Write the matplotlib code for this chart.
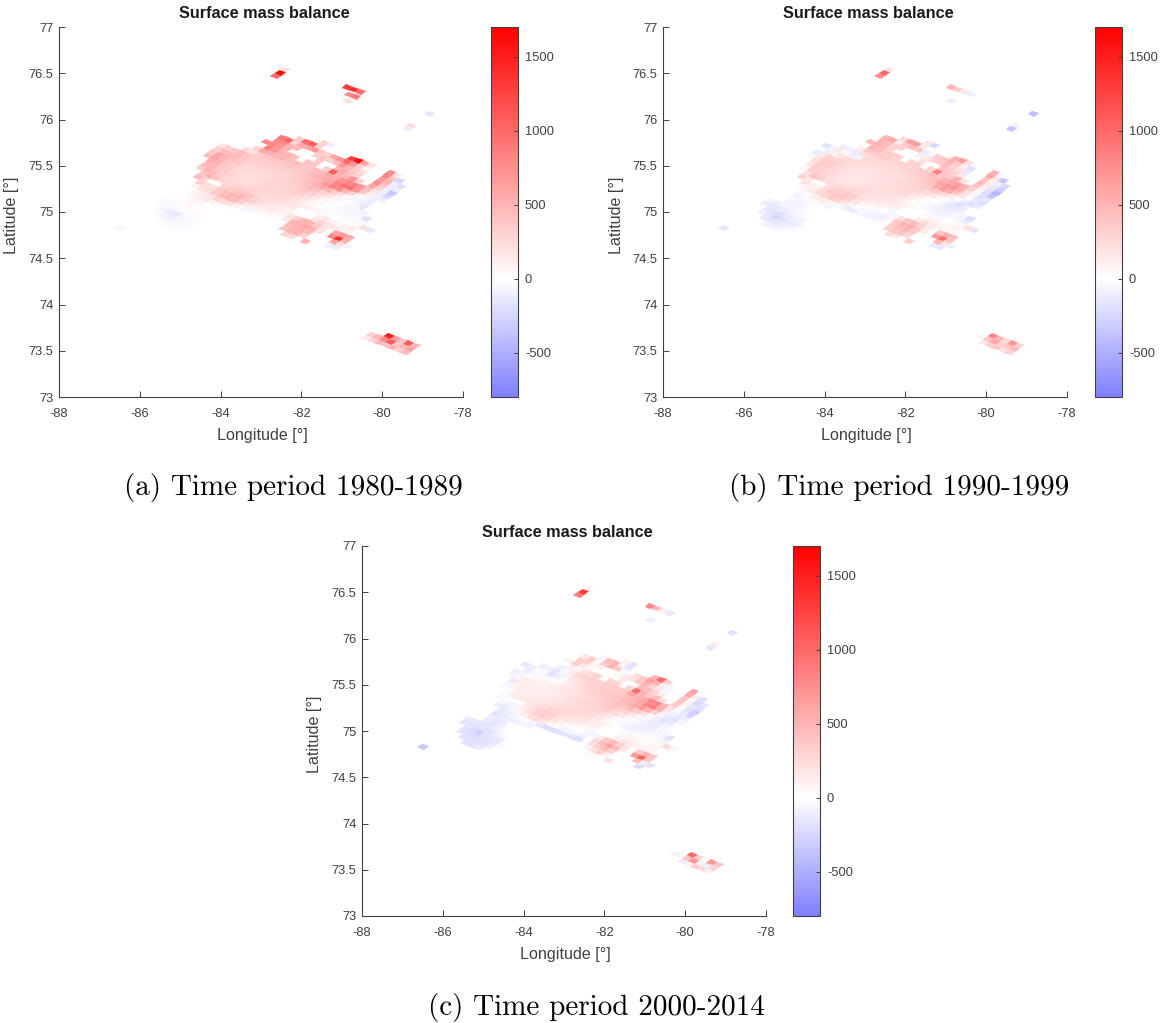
import numpy as np
import matplotlib
matplotlib.use("Agg")
import matplotlib.pyplot as plt
from matplotlib.colors import LinearSegmentedColormap, Normalize

_ = np.nan
TITLE = "Surface mass balance"
CAPTIONS = ["(a) Time period 1980-1989", "(b) Time period 1990-1999", "(c) Time period 2000-2014"]
XTICKS = [-88, -86, -84, -82, -80, -78]
YTICKS = [73, 73.5, 74, 74.5, 75, 75.5, 76, 76.5, 77]
YTICKLABELS = ["73", "73.5", "74", "74.5", "75", "75.5", "76", "76.5", "77"]
CTICKS = [-500, 0, 500, 1000, 1500]

# rows of the main ice cap, top row first: (first column, values)
cap_a = [
 (8,[300,-100]),
 (5,[350,1000,1050,300,_,_,_,_,1300,1600,600,200,_,_,800,150]),
 (3,[900,1000,300,600,600,700,400,300,600,750,1000,700,300,50,_,_,800,400,-250]),
 (3,[800,800,500,450,_,_,300,400,300,450,700,500,350,250,_,_,700,500,-100,-200]),
 (2,[800,800,700,500,_,_,_,_,350,_,_,500,550,400,300,_,_,750,400,-100,-100]),
 (3,[850,700,550,500,450,_,400,400,_,350,1100,500,500,700,300,_,600,300,-100,-350]),
 (2,[300,600,550,500,500,450,450,400,400,450,450,600,550,700,800,850,700,450,150,-100,-250]),
 (1,[250,200,350,400,400,400,400,400,400,400,450,500,550,600,800,950,950,700,350,100,-100,-100]),
 (-2,[150,300,400,450,400,350,350,350,350,350,350,350,350,400,450,500,700,850,800,500,300,50,-50,-100]),
 (-2,[300,450,450,450,400,350,300,300,300,300,300,300,350,400,450,500,550,500,350,200,50,-50,-80,-100]),
 (-2,[400,600,500,450,400,300,280,280,280,280,280,300,320,350,400,450,400,300,200,100,50,0,-50,-150]),
 (-2,[450,600,500,400,350,300,250,250,250,260,280,300,300,320,350,380,300,200,100,50,20,-30,-50,-60,-80]),
 (-1,[550,500,400,350,280,250,230,230,250,280,280,280,300,330,300,200,120,50,20,-20,-40,-50,-50,-40,-200]),
 (-1,[500,500,400,350,300,250,230,230,250,280,280,280,300,280,220,150,80,40,-10,-30,-40,-40,-30,-20,-30]),
 (-1,[350,500,450,350,280,250,240,250,280,300,300,280,280,250,200,150,120,100,80,30,10,0,0,20,50,200,-150]),
 (0,[400,500,400,300,280,300,320,320,300,280,250,230,200,180,150,_,_,_,100,150,100,50,100,150]),
 (0,[450,300,_,_,300,350,400,420,400,300,250,200,150,120,80,_,_,_,200,300,200,150,100,100]),
 (1,[350,250,200,350,450,500,500,400,300,200,150,150,120,100,200,350,500,500,350,200,50,600,700,600]),
 (1,[100,200,250,350,450,500,450,300,150,100,80,80,60,50,150,500,550,600,500,200,_,800,1400,500]),
 (2,[100,150,200,300,250,200,100,-50,-50,30,20,30,20,_,450,500,550,450,_,_,_,600,200,-70]),
 (2,[60,100,150,100,50,30,_,_,_,_,_,_,_,_,400,500,500,300,_,_,_,-80,-100]),
 (2,[40,80,40,_,_,_,_,_,_,_,_,_,_,_,_,300,250,_,500]),
 (2,[30,50,40,20]),
 (0,[-20,-30,30,60,40,20]),
 (0,[-50,-40,-30,-10,30,30,10]),
 (1,[-60,-100,-150,-60,-20,-10]),
 (1,[-40,-80,-100,-60,-30,-20]),
 (2,[-30,-40,-40,-30,-20]),
 (3,[-20,-20,-15]),
]
cap_b = [
 (8,[150,-250]),
 (5,[250,650,650,120,_,_,_,_,500,650,200,_,_,_,500,-50]),
 (3,[500,600,120,350,450,400,-120,-50,350,400,500,350,100,-200,_,_,600,150,-350]),
 (3,[500,450,300,300,_,_,100,150,300,350,450,300,200,-150,_,_,400,100,-100,-250]),
 (2,[450,500,450,300,_,_,_,_,200,_,_,400,400,300,150,_,_,450,150,-150,-300]),
 (3,[500,450,350,350,300,_,300,300,_,300,850,400,350,500,200,_,400,100,-200,-450]),
 (2,[100,350,350,350,350,300,300,300,300,350,350,450,400,500,600,650,500,300,50,-200,-350]),
 (0,[-100,-80,-120,200,250,280,280,280,280,280,300,320,350,400,450,600,700,700,500,200,-50,-200,-150]),
 (-2,[-200,-80,150,50,-100,-60,250,250,250,250,250,250,250,280,300,350,400,550,650,550,350,200,0,-150,-200]),
 (-1,[-100,100,200,250,250,250,230,220,220,220,220,230,250,280,320,350,400,350,250,120,0,-100,-200,-150]),
 (-2,[-120,150,300,300,280,250,220,200,200,200,200,220,240,260,280,300,300,250,150,50,-30,-120,-200,-100]),
 (-2,[-50,200,350,350,280,230,200,180,180,190,200,220,230,240,260,280,220,130,50,0,-60,-120,-150,-100]),
 (-1,[200,350,350,280,220,190,170,170,180,200,210,220,240,260,220,130,60,0,-40,-80,-100,-100,-60,-60,-220]),
 (-1,[150,350,300,280,230,190,170,170,190,220,220,220,230,220,160,100,30,-10,-50,-80,-80,-70,-40,-50,-100]),
 (-1,[50,300,350,280,230,190,180,200,230,250,240,220,220,190,150,100,80,50,0,-30,-40,-30,10,30,50,200,-150]),
 (0,[200,400,350,250,220,250,270,280,250,220,200,170,150,120,100,_,_,_,50,100,80,30,60,100]),
 (0,[300,150,_,_,250,300,350,380,330,220,170,120,100,50,-50,_,_,_,150,250,150,100,60,60]),
 (1,[200,120,100,250,350,400,400,300,200,80,30,50,20,-50,-60,200,400,450,300,150,20,400,550,450]),
 (1,[-30,80,150,250,300,380,300,200,80,0,-50,-60,-70,-100,50,400,500,550,400,150,_,650,950,400]),
 (2,[-50,30,100,150,120,60,-40,-120,-100,-40,-80,-70,-50,_,350,450,480,350,_,_,_,500,150,-100]),
 (2,[-80,-30,50,30,-30,-60,_,_,_,_,_,_,_,_,300,400,400,250,_,_,_,-120,-150]),
 (2,[-40,-60,-40,_,_,_,_,_,_,_,_,_,_,_,_,250,150,_,350]),
 (2,[-60,-80,-60,-30]),
 (0,[-60,-100,-80,-70,-60,-30]),
 (0,[-120,-140,-120,-100,-70,-50,-30]),
 (1,[-130,-170,-220,-150,-100,-80]),
 (1,[-90,-150,-260,-200,-130,-110,-50]),
 (2,[-130,-150,-130,-110,-70]),
 (3,[-80,-90,-60]),
]
cap_c = [
 (8,[100,-180]),
 (5,[100,450,480,80,-150,_,_,_,500,1000,300,_,_,_,600,-20]),
 (3,[150,350,-30,350,500,350,-40,_,250,400,650,500,100,-50,_,_,550,100,-200]),
 (3,[350,300,80,100,_,_,60,150,200,400,500,300,150,-60,_,_,400,50,-250,-150]),
 (2,[100,350,150,80,_,_,_,_,150,_,_,450,450,300,150,_,_,400,100,-150,-180]),
 (3,[100,80,200,250,300,_,300,300,_,300,1000,500,350,450,200,_,350,30,-200,-300]),
 (2,[-100,-50,150,280,300,330,330,350,350,350,400,600,500,550,800,800,500,200,-40,-130,-280]),
 (0,[-100,-80,-160,-60,100,200,250,300,330,350,380,400,400,450,500,600,800,850,550,150,-100,-150,-100]),
 (-2,[-160,-100,-30,-40,-170,-100,30,150,200,260,300,330,360,380,400,450,500,600,650,500,300,-50,-150,-180,-60]),
 (-1,[-120,-50,-40,-40,-20,30,120,180,230,260,300,330,360,400,430,420,450,350,220,50,-100,-180,-130]),
 (-2,[-100,-50,30,60,80,80,100,150,180,200,230,260,280,320,360,380,350,300,170,50,-50,-100,-120,-60]),
 (-2,[-40,80,120,120,110,110,120,150,170,200,230,260,280,300,320,320,260,170,60,-20,-70,-100,-120,-60,-30]),
 (-1,[-130,100,130,130,110,110,130,160,190,230,260,280,290,280,220,130,40,-20,-70,-90,-100,-90,-70,-60,-180]),
 (-1,[-60,80,130,130,120,120,140,170,210,240,260,270,260,220,160,90,10,-40,-70,-80,-70,-50,-30,-30,-80]),
 (-1,[-30,30,120,120,130,130,160,190,230,260,270,260,230,200,150,110,60,20,0,-30,-30,-20,20,40,60,250,-50]),
 (0,[-30,120,130,150,170,220,260,290,290,260,230,190,160,130,90,_,_,_,50,100,80,40,60,80]),
 (0,[-20,-20,_,_,150,220,300,330,300,220,160,120,100,50,-30,_,_,_,120,200,130,100,60,60]),
 (1,[-30,-80,-30,120,200,280,320,280,180,80,30,40,20,-50,-70,120,350,450,300,150,20,350,500,400]),
 (1,[-100,-130,-60,50,120,220,250,150,50,-30,-60,-50,-60,-100,20,250,450,600,450,150,_,700,1050,400]),
 (2,[-150,-100,-60,-30,-20,-60,-150,-220,-220,-180,-170,-190,-200,_,200,350,450,300,_,_,_,450,100,-200]),
 (2,[-170,-130,-90,-100,-60,-60,_,_,_,_,_,_,_,_,-40,200,300,100,_,_,_,_,-250]),
 (2,[-100,-130,-100,_,_,_,_,_,_,_,_,_,_,_,_,-40,50,_,200]),
 (2,[-120,-170,-110,-30]),
 (0,[-130,-160,-170,-160,-120,-50]),
 (0,[-170,-180,-190,-190,-170,-100,-40]),
 (1,[-180,-230,-300,-180,-150,-130]),
 (1,[-170,-200,-230,-190,-170,-150,-60]),
 (2,[-180,-190,-190,-170,-100]),
 (3,[-170,-170,-120]),
]

# outlying ice bodies: (lon, lat of first cell, rows from lowest row up)
isl_a = [
 (-82.63, 76.47, [[1000], [1650], [200]]),
 (-80.87, 76.35, [[1300, 1400, 1000]]),
 (-80.82, 76.27, [[800, 900, 50]]),
 (-80.85, 76.20, [[200]]),
 (-79.29, 75.93, [[250]]),
 (-79.38, 75.90, [[-100]]),
 (-78.84, 76.06, [[-150]]),
 (-86.49, 74.83, [[-50]]),
 (-80.38, 73.64, [[150, 300, 500, 400, 500, 300, 450],
                  [300, 500, 800, 1100, 400, 500, 600],
                  [_, _, 1500, 700, 400, 1100, 500]]),
]
isl_b = [
 (-82.63, 76.47, [[700], [1000], [150]]),
 (-80.87, 76.35, [[500, 350, 150, -100]]),
 (-80.85, 76.20, [[-100]]),
 (-79.29, 75.93, [[-80]]),
 (-79.38, 75.90, [[-350]]),
 (-78.84, 76.06, [[-400]]),
 (-86.49, 74.83, [[-150]]),
 (-80.38, 73.64, [[_, _, 150, 300, 400, 200, 300],
                  [_, 80, 400, 600, 300, 400, 450],
                  [_, _, 800, 500, 250, 700, 300]]),
]
isl_c = [
 (-82.63, 76.47, [[900], [1300], [100]]),
 (-80.87, 76.35, [[800, 450, 100, -150]]),
 (-80.85, 76.20, [[-100]]),
 (-79.29, 75.93, [[120]]),
 (-79.38, 75.90, [[-150]]),
 (-78.84, 76.06, [[-200]]),
 (-86.49, 74.83, [[-350]]),
 (-80.38, 73.64, [[_, _, -100, 100, 350, 250, 100],
                  [-80, -50, 400, 700, 100, -100, 300],
                  [_, _, 1000, 300, 50, 700, 400]]),
]

# grid geometry of the rotated model grid, degrees
LON0, LAT0 = -84.55, 75.38
DU = (0.1609, -0.0259)
DV = (0.1139, 0.0357)
VMIN, VMAX = -800, 1700

cmap = LinearSegmentedColormap.from_list(
    "smb", [(0, (0.5, 0.5, 1)), (800 / 2500, (1, 1, 1)), (1, (1, 0, 0))], N=256)
norm = Normalize(VMIN, VMAX)


def mesh(ax, lon0, lat0, rows):
    """rows[0] is row j=0; j grows towards the north-east."""
    n = max(len(r) for r in rows)
    z = np.full((len(rows), n), np.nan)
    for k, r in enumerate(rows):
        z[k, :len(r)] = r
    ii, jj = np.meshgrid(np.arange(n + 1) - 0.5, np.arange(len(rows) + 1) - 0.5)
    x = lon0 + DU[0] * ii + DV[0] * jj
    y = lat0 + DU[1] * ii + DV[1] * jj
    return ax.pcolormesh(x, y, np.ma.masked_invalid(z), cmap=cmap, norm=norm,
                         antialiased=True, edgecolors="face", linewidth=0.15)


def cap_rows(cap):
    lo = min(s for s, _v in cap)
    rows = []
    for s, v in cap[::-1]:
        rows.append([np.nan] * (s - lo) + list(v))
    return lo, rows


W, H = 1160, 1023
fig = plt.figure(figsize=(W / 100, H / 100), dpi=100)
plt.rcParams["font.family"] = ["Liberation Sans", "DejaVu Sans"]
GRAY = "#404040"


def panel(x0, y0, cap, islands, cbx, caption, capx, capy):
    ax = fig.add_axes([x0 / W, 1 - (y0 + 370) / H, 404 / W, 370 / H])
    lo, rows = cap_rows(cap)
    J_BOTTOM = 16 - (len(rows) - 1)
    lon = LON0 + DU[0] * lo + DV[0] * J_BOTTOM
    lat = LAT0 + DU[1] * lo + DV[1] * J_BOTTOM
    m = mesh(ax, lon, lat, rows)
    for ilon, ilat, irows in islands:
        mesh(ax, ilon, ilat, irows)
    ax.set_xlim(-88, -78)
    ax.set_ylim(73, 77)
    for s in ("top", "right"):
        ax.spines[s].set_visible(False)
    for s in ("left", "bottom"):
        ax.spines[s].set_color(GRAY)
        ax.spines[s].set_linewidth(0.8)
    ax.set_xticks(XTICKS)
    ax.set_xticklabels([str(t) for t in XTICKS])
    ax.set_yticks(YTICKS)
    ax.set_yticklabels(YTICKLABELS)
    ax.tick_params(direction="in", length=4, width=0.7, colors=GRAY, labelsize=9.3, pad=4)
    ax.tick_params(axis="x", pad=8)
    fig.text((x0 + 203) / W, 1 - (y0 + 408) / H, "Longitude [°]", ha="center", va="center",
             fontsize=11.6, color=GRAY)
    fig.text((x0 - 47) / W, 1 - (y0 + 188) / H, "Latitude [°]", ha="center", va="center",
             rotation=90, fontsize=11.6, color=GRAY)
    fig.text((x0 + 205) / W, 1 - (y0 - 13.5) / H, TITLE, ha="center", va="center",
             fontsize=11.7, fontweight="bold", color="#1a1a1a")
    cax = fig.add_axes([cbx / W, 1 - (y0 + 370) / H, 27 / W, 370 / H])
    cb = fig.colorbar(m, cax=cax)
    cb.set_ticks(CTICKS)
    cb.set_ticklabels([str(t) for t in CTICKS])
    cb.ax.tick_params(direction="in", length=3, width=0.7, colors=GRAY, labelsize=9.3, pad=5)
    cb.outline.set_edgecolor(GRAY)
    cb.outline.set_linewidth(0.8)
    fig.text(capx / W, 1 - capy / H, caption, ha="center", va="center",
             fontsize=21, family="cmr10", color="black")


panel(59, 27, cap_a, isl_a, 491, CAPTIONS[0], 293, 488)
panel(663, 27, cap_b, isl_b, 1095, CAPTIONS[1], 899, 488)
panel(362, 546, cap_c, isl_c, 793, CAPTIONS[2], 596, 1007)

fig.savefig("out.png", dpi=100)
